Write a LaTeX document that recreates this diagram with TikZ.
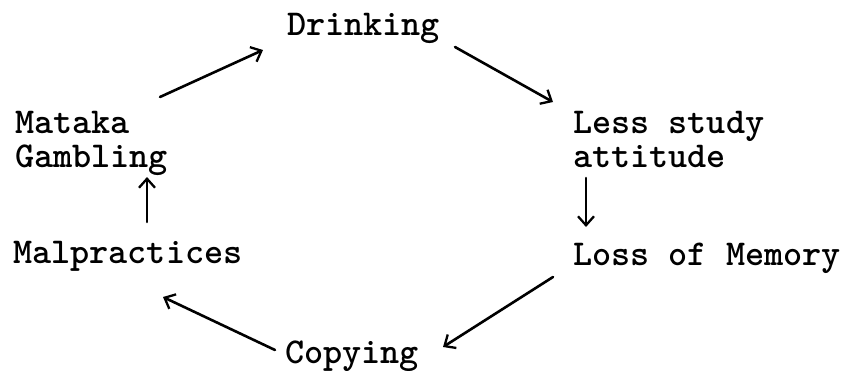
\documentclass[tikz,border=0pt]{standalone}
\usepackage{fontspec}
\usetikzlibrary{arrows.meta,calc}
\tikzset{
  lbl/.style={inner sep=0pt, anchor=base west, align=left,
    font=\ttfamily\bfseries\fontsize{36.4}{34}\selectfont},
  arr/.style={line width=2.6pt, line cap=round,
    -{Straight Barb[length=9pt,width=16pt,line width=2.3pt]}}
}
\begin{document}
\begin{tikzpicture}[x=1pt,y=-1pt]
\useasboundingbox (0,0) rectangle (845,370);
\node[lbl] (dri) at (287,35) {Drinking};
\node[lbl] (mat) at (15,167) {Mataka\\Gambling};
\node[lbl] (les) at (573,167) {Less study\\attitude};
\node[lbl] (mal) at (13,263) {Malpractices};
\node[lbl] (los) at (573,265) {Loss of Memory};
\node[lbl] (cop) at (285,363) {Copying};
\draw[arr] ($(mat.base west)+(145,-70)$) -- ($(dri.base west)+(-24,15)$);
\draw[arr] ($(dri.base west)+(168,12)$) -- ($(les.base west)+(-20,-65)$);
\draw[arr] ($(les.base west)+(13,11)$) -- ($(los.base west)+(13,-38)$);
\draw[arr] ($(los.base west)+(-20,12)$) -- ($(cop.base west)+(158,-16)$);
\draw[arr] ($(cop.base west)+(-10,-13)$) -- ($(mal.base west)+(150,34)$);
\draw[arr] ($(mal.base west)+(134,-41)$) -- ($(mat.base west)+(132,10)$);
\end{tikzpicture}
\end{document}
